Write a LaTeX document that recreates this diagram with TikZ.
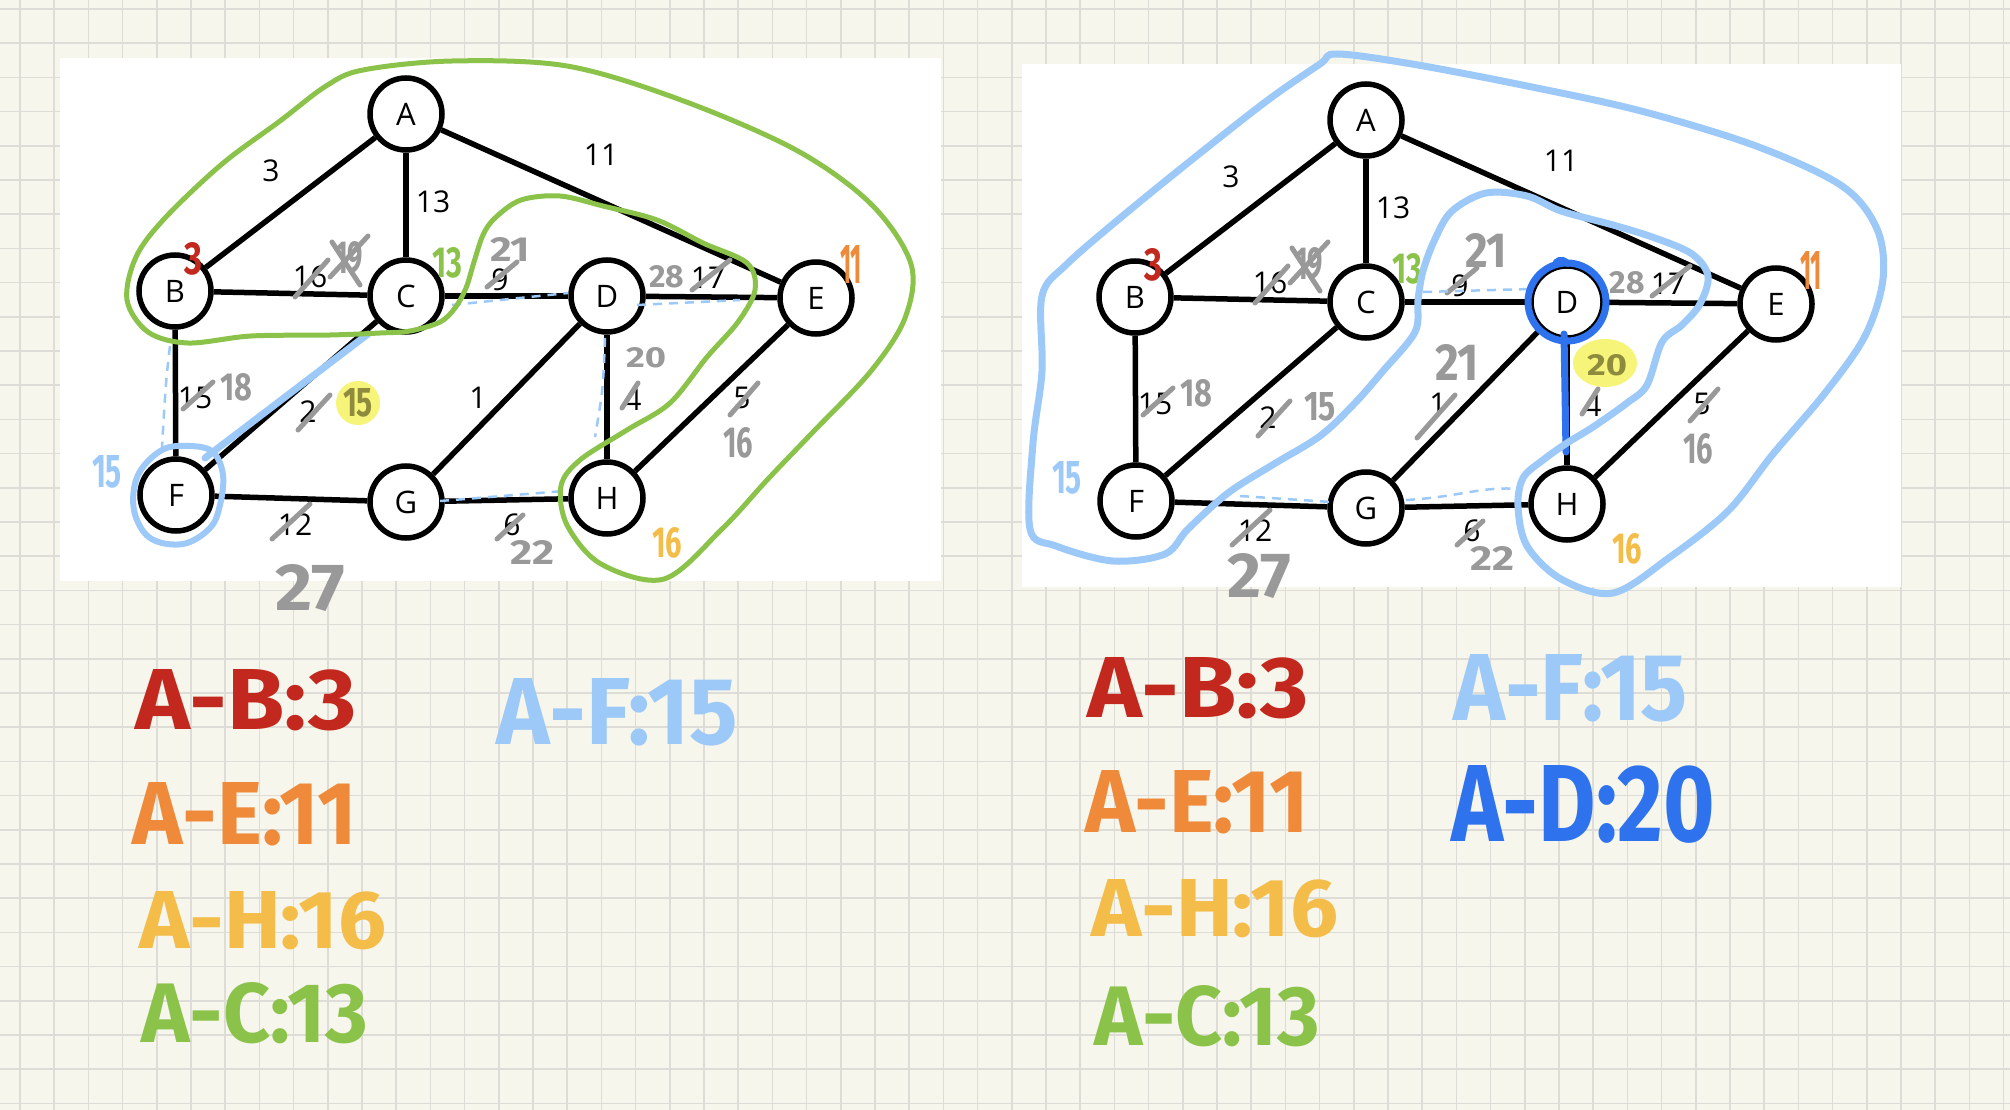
\documentclass[tikz,border=0pt]{standalone}
\usepackage{fontspec}
\setmainfont{Open Sans}
\newfontfamily\handfont{Fira Sans}
\usepackage{graphicx}
\definecolor{bgc}{HTML}{F7F6EC}
\definecolor{gridc}{HTML}{DDDCD7}
\definecolor{grayc}{HTML}{999999}
\definecolor{redc}{HTML}{C2281D}
\definecolor{orangec}{HTML}{EF8A3A}
\definecolor{yellowc}{HTML}{F4BD4A}
\definecolor{greenc}{HTML}{8BC34A}
\definecolor{lblue}{HTML}{9CC9F8}
\definecolor{dblue}{HTML}{2F72EE}
\definecolor{hlc}{HTML}{F7F47A}
\definecolor{olivec}{HTML}{8E8B3E}
\newcommand\hw[4]{\textcolor{#1}{\resizebox{#2pt}{#3pt}{\handfont\bfseries #4}}}
\tikzset{
  vtx/.style={circle, draw=black, line width=5.5pt, fill=white, minimum size=72pt, inner sep=0pt, font=\fontsize{31}{33}\selectfont},
  gedge/.style={draw=black, line width=5.5pt},
  elab/.style={inner sep=0pt, font=\fontsize{30}{32}\selectfont},
  handtxt/.style={inner sep=0pt},
  strikeline/.style={draw=grayc, line width=5pt, line cap=round},
  bdash/.style={draw=lblue, line width=2.5pt, dash pattern=on 9pt off 7pt},
}
\newcommand\basegraph[1]{%
  \node[vtx] (#1A) at (406,114) {A};
  \node[vtx] (#1B) at (175,291) {B};
  \node[vtx] (#1C) at (406,296) {C};
  \node[vtx] (#1D) at (607,296) {D};
  \node[vtx] (#1E) at (816,298) {E};
  \node[vtx] (#1F) at (176,495) {F};
  \node[vtx] (#1G) at (406,502) {G};
  \node[vtx] (#1H) at (607,498) {H};
  \draw[gedge] (#1A) -- (#1B);
  \draw[gedge] (#1A) -- (#1C);
  \draw[gedge] (#1A) -- (#1E);
  \draw[gedge] (#1B) -- (#1C);
  \draw[gedge] (#1B) -- (#1F);
  \draw[gedge] (#1C) -- (#1D);
  \draw[gedge] (#1C) -- (#1F);
  \draw[gedge] (#1D) -- (#1E);
  \draw[gedge] (#1D) -- (#1G);
  \draw[gedge] (#1D) -- (#1H);
  \draw[gedge] (#1E) -- (#1H);
  \draw[gedge] (#1F) -- (#1G);
  \draw[gedge] (#1G) -- (#1H);
  \node[elab] (#1l3) at (271,171) {3};
  \node[elab] (#1l11) at (601,155) {11};
  \node[elab] (#1l13) at (433,202) {13};
  \node[elab] (#1l16) at (310,277) {16};
  \node[elab] (#1l9) at (500,280) {9};
  \node[elab] (#1l17) at (708,278) {17};
  \node[elab] (#1l15) at (195,398) {15};
  \node[elab] (#1l2) at (308,412) {2};
  \node[elab] (#1l1) at (478,398) {1};
  \node[elab] (#1l4) at (633,400) {4};
  \node[elab] (#1l5) at (742,398) {5};
  \node[elab] (#1l12) at (295,525) {12};
  \node[elab] (#1l6) at (512,525) {6};
}
\newcommand\commonann{%
  % strikes over printed labels
  \draw[strikeline] (295,297) -- (328,260);
  \draw[strikeline] (487,287) -- (517,262);
  \draw[strikeline] (692,290) -- (730,260);
  \draw[strikeline] (183,409) -- (213,382);
  \draw[strikeline] (298,430) -- (330,395);
  \draw[strikeline] (622,408) -- (638,383);
  \draw[strikeline] (730,415) -- (758,383);
  \draw[strikeline] (272,539) -- (310,504);
  \draw[strikeline] (497,539) -- (523,515);
  % crossed-out 19
  \node[handtxt] at (349,258) {\hw{grayc}{28}{32}{19}};
  \draw[strikeline] (330,277) -- (368,236);
  \draw[strikeline] (332,242) -- (360,285);
  % gray replacement numbers
  \node[handtxt] at (236,387) {\hw{grayc}{32}{27}{18}};
  \node[handtxt] at (738,443) {\hw{grayc}{30}{30}{16}};
  \node[handtxt] at (667,277) {\hw{grayc}{35}{22}{28}};
  \node[handtxt] at (532,552) {\hw{grayc}{44}{24}{22}};
  % coloured distances
  \node[handtxt] at (193,259) {\hw{redc}{18}{32}{3}};
  \node[handtxt] at (447,263) {\hw{greenc}{30}{30}{13}};
  \node[handtxt] at (851,264) {\hw{orangec}{22}{38}{11}};
  \node[handtxt] at (107,472) {\hw{lblue}{30}{32}{15}};
  \node[handtxt] at (667,543) {\hw{yellowc}{30}{30}{16}};
}
\begin{document}
\begin{tikzpicture}[x=1pt,y=-1pt]
\useasboundingbox (0,0) rectangle (2010,1110);
\fill[bgc] (0,0) rectangle (2010,1110);
\foreach \i in {0,...,58} \draw[gridc, line width=1.6pt] ({20+34.2*\i},0) -- ({20+34.2*\i},1110);
\foreach \j in {0,...,32} \draw[gridc, line width=1.6pt] (0,{9+34.2*\j}) -- (2010,{9+34.2*\j});
\fill[white] (60,58) rectangle (941,581);
\fill[white] (1022,64) rectangle (1901,587);

% ---------------- left graph ----------------
\fill[hlc] (358,403) circle (22);
\basegraph{l}
\commonann
\node[handtxt] at (510,249) {\hw{grayc}{40}{24}{21}};
\node[handtxt] at (646,358) {\hw{grayc}{40}{20}{20}};
\node[handtxt] at (358,403) {\hw{olivec}{30}{28}{15}};
\node[handtxt] at (310,588) {\hw{grayc}{70}{46}{27}};
% blue dashed annotations
\coordinate (lb1) at (170,346); \coordinate (lb2) at (162,447);
\coordinate (lc1) at (452,305); \coordinate (lc2) at (568,293);
\coordinate (ld1) at (637,305); \coordinate (ld2) at (740,300);
\coordinate (le1) at (605,338); \coordinate (le2) at (595,437);
\coordinate (lf1) at (440,501); \coordinate (lf2) at (564,491);
\draw[bdash] (lb1) .. controls (166,380) .. (lb2);
\draw[bdash] (lc1) -- (lc2);
\draw[bdash] (ld1) -- (ld2);
\draw[bdash] (le1) .. controls (603,390) .. (le2);
\draw[bdash] (lf1) -- (lf2);
% blue path F-C and loop around F
\draw[lblue, line width=7pt, line cap=round] (205,458) -- (368,334);
\draw[lblue, line width=6pt] plot[smooth cycle, tension=0.6] coordinates {(162,450) (190,446) (213,452) (223,475) (220,505) (210,528) (183,544) (150,538) (134,510) (138,475)};
% green loop
\draw[greenc, line width=5pt] plot[smooth cycle, tension=0.55] coordinates {(363,70) (452,61) (567,66) (681,100) (796,150) (871,204) (911,264) (905,318) (871,371) (813,432) (768,479) (722,529) (664,579) (601,564) (567,525) (561,486) (580,460) (627,430) (670,403) (707,357) (738,322) (755,290) (747,263) (703,243) (657,220) (603,206) (560,196) (521,200) (495,218) (483,235) (474,262) (466,288) (455,308) (440,322) (410,331) (380,333) (330,335) (251,336) (188,343) (148,332) (127,300) (136,257) (165,218) (222,164) (280,121) (326,86)};

% ---------------- right graph ----------------
\fill[hlc] (1605,363) ellipse (32 and 24);
\begin{scope}[shift={(960,6)}]
\basegraph{r}
\commonann
\end{scope}
\node[handtxt] at (1486,250) {\hw{grayc}{42}{34}{21}};
\node[handtxt] at (1457,362) {\hw{grayc}{44}{36}{21}};
\draw[strikeline] (1417,438) -- (1455,395);
\node[handtxt] at (1320,407) {\hw{grayc}{32}{28}{15}};
\node[handtxt] at (1607,365) {\hw{olivec}{40}{21}{20}};
\node[handtxt] at (1259,576) {\hw{grayc}{64}{44}{27}};
\coordinate (rc1) at (1423,292); \coordinate (rc2) at (1530,289);
\coordinate (rf1) at (1240,496); \coordinate (rf2) at (1331,502);
\coordinate (rg1) at (1406,500); \coordinate (rg2) at (1520,489);
\draw[bdash] (rc1) -- (rc2);
\draw[bdash] (rf1) -- (rf2);
\draw[bdash] (rg1) .. controls (1460,497) and (1480,486) .. (rg2);
% dark blue D marking
\draw[dblue, line width=7pt] (rD.center) circle (39);
\draw[dblue, line width=6pt, line cap=round] (1556,262) .. controls (1560,258) and (1566,260) .. (1568,264);
\coordinate (rdv1) at (1564,334); \coordinate (rdv2) at (1566,452);
\draw[dblue, line width=7pt, line cap=round] (rdv1) -- (rdv2);
% light blue loop
\draw[lblue, line width=7pt] plot[smooth cycle, tension=0.55] coordinates {(1337,54) (1412,64) (1527,86) (1641,111) (1756,146) (1842,186) (1877,229) (1883,279) (1865,336) (1825,393) (1773,454) (1728,511) (1670,557) (1613,593) (1561,579) (1527,546) (1518,507) (1523,478) (1543,460) (1567,443) (1593,427) (1627,403) (1647,385) (1662,342) (1682,325) (1700,304) (1708,276) (1692,254) (1655,238) (1613,225) (1561,211) (1527,196) (1486,193) (1452,211) (1435,239) (1423,271) (1418,300) (1415,332) (1383,371) (1354,404) (1320,436) (1274,464) (1228,493) (1188,529) (1165,554) (1113,561) (1056,546) (1030,529) (1033,443) (1042,371) (1042,296) (1067,264) (1125,214) (1199,154) (1268,100) (1320,64)};

% ---------------- lists ----------------
\node[handtxt] (lab) at (246,700) {\hw{redc}{221}{60}{A-B:3}};
\node[handtxt] (lae) at (245,814) {\hw{orangec}{224}{62}{A-E:11}};
\node[handtxt] (lah) at (263,921) {\hw{yellowc}{246}{57}{A-H:16}};
\node[handtxt] (lac) at (255,1013) {\hw{greenc}{226}{60}{A-C:13}};
\node[handtxt] (laf) at (617,712) {\hw{lblue}{241}{66}{A-F:15}};
\node[handtxt] (rab) at (1198,688) {\hw{redc}{221}{60}{A-B:3}};
\node[handtxt] (rae) at (1197,802) {\hw{orangec}{223}{62}{A-E:11}};
\node[handtxt] (rah) at (1215,909) {\hw{yellowc}{246}{57}{A-H:16}};
\node[handtxt] (rac) at (1207,1016) {\hw{greenc}{225}{60}{A-C:13}};
\node[handtxt] (raf) at (1571,688) {\hw{lblue}{234}{66}{A-F:15}};
\node[handtxt] (rad) at (1583,804) {\hw{dblue}{263}{76}{A-D:20}};
\end{tikzpicture}
\end{document}
